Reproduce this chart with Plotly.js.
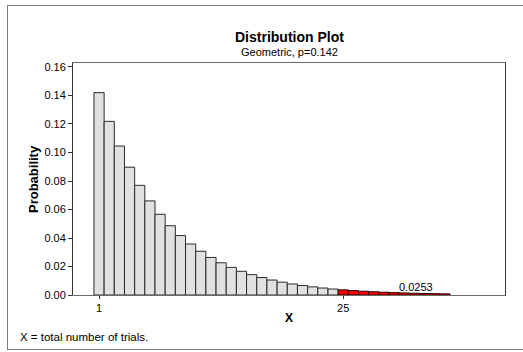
<!DOCTYPE html>
<html><head><meta charset="utf-8">
<script src="https://cdn.plot.ly/plotly-3.0.1.min.js"></script>
<style>
body{margin:0;padding:0;background:#fff;}
#frame{position:absolute;left:7px;top:5px;width:530px;height:343px;border:1px solid #7a7a7a;pointer-events:none;}
#chart{width:523px;height:352px;}
</style></head><body>
<div id="chart"></div>
<div id="frame"></div>
<script>
const xBody = [1,2,3,4,5,6,7,8,9,10,11,12,13,14,15,16,17,18,19,20,21,22,23,24];
const pBody = [0.1420,0.12184,0.10454,0.08969,0.07696,0.06603,0.05665,0.04861,0.04170,0.03578,0.03070,0.02634,0.02260,0.01939,0.01664,0.01428,0.01225,0.01051,0.00902,0.00774,0.00664,0.00570,0.00489,0.00419];
const xTail = [25,26,27,28,29,30,31,32,33,34,35];
const pTail = [0.00360,0.00309,0.00265,0.00227,0.00195,0.00167,0.00144,0.00123,0.00106,0.00091,0.00078];
const tailLabel = "0.0253";
const xTicks = [1,25];
const yTicks = [0,0.02,0.04,0.06,0.08,0.10,0.12,0.14,0.16];

const font = "Liberation Sans, Arial, sans-serif";
const traces = [
  {type:'bar', x:xBody, y:pBody, width:1, marker:{color:'#e1e1e1', line:{color:'#2a2a2a', width:1}}, hoverinfo:'none'},
  {type:'bar', x:xTail, y:pTail, width:1, marker:{color:'#ff0000', line:{color:'#2a0000', width:1}}, hoverinfo:'none'}
];
const layout = {
  width:523, height:352,
  margin:{l:73, r:18, t:63, b:57},
  paper_bgcolor:'#fff', plot_bgcolor:'#fff',
  showlegend:false, barmode:'overlay',
  font:{family:font, size:11, color:'#000'},
  xaxis:{range:[-1.56,40.9], tickvals:xTicks, ticktext:xTicks.map(String), ticks:'outside', ticklen:3, tickcolor:'#333',
    showline:true, linecolor:'#6a6a6a', linewidth:1, mirror:true, showgrid:false, zeroline:false, tickfont:{size:11}},
  yaxis:{range:[0,0.1628], tickvals:yTicks, tickformat:'.2f', ticks:'outside', ticklen:4, tickcolor:'#333',
    showline:true, linecolor:'#333', linewidth:1, mirror:true, showgrid:false, zeroline:false, tickfont:{size:11}},
  annotations:[
    {text:'<b>Distribution Plot</b>', xref:'paper', yref:'paper', x:0.5, y:1.112, xanchor:'center', yanchor:'middle', showarrow:false, font:{size:14}},
    {text:'Geometric, p=0.142', xref:'paper', yref:'paper', x:0.5, y:1.047, xanchor:'center', yanchor:'middle', showarrow:false, font:{size:11}},
    {text:'<b>X</b>', xref:'paper', yref:'paper', x:0.5, y:-0.099, xanchor:'center', yanchor:'middle', showarrow:false, font:{size:12}},
    {text:'<b>Probability</b>', xref:'paper', yref:'paper', x:-0.0926, y:0.5, xanchor:'center', yanchor:'middle', textangle:-90, showarrow:false, font:{size:13}},
    {text:'X = total number of trials.', xref:'paper', yref:'paper', x:-0.127, y:-0.181, xanchor:'left', yanchor:'middle', showarrow:false, font:{size:11.5}},
    {text:tailLabel, xref:'x', yref:'y', x:32.2, y:0.0057, xanchor:'center', yanchor:'middle', showarrow:false, font:{size:11}}
  ]
};
Plotly.newPlot('chart', traces, layout, {staticPlot:true, displayModeBar:false});
</script>
</body></html>
